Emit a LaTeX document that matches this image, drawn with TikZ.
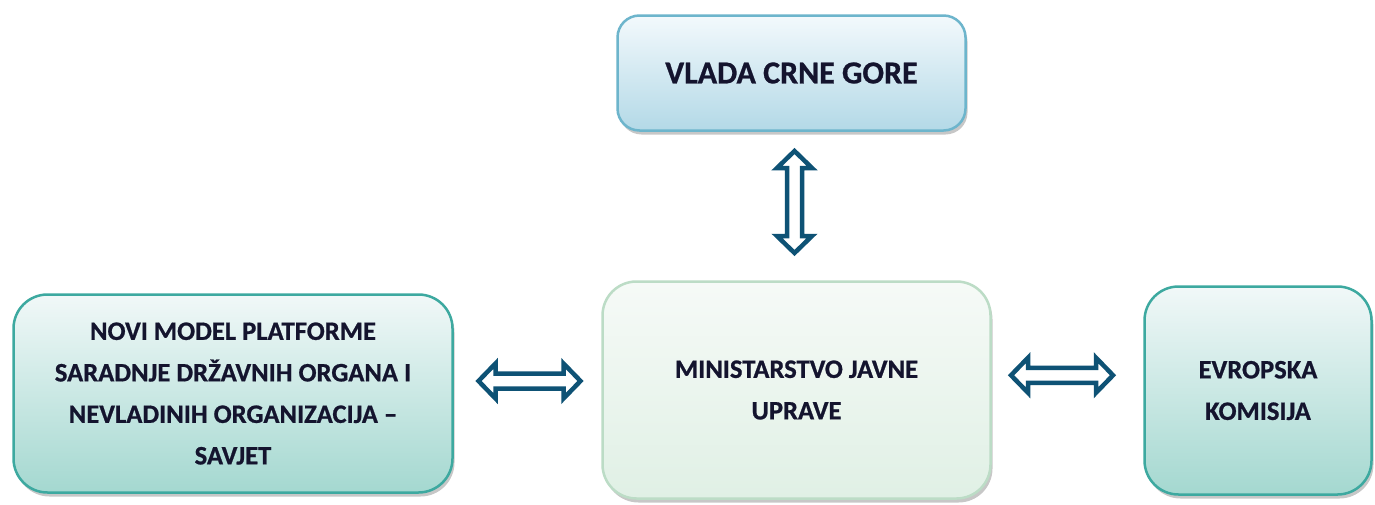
\documentclass[tikz,border=0pt]{standalone}
\usepackage{fontspec}
\setmainfont{Carlito}[BoldFeatures={FakeBold=0.8}]
\usetikzlibrary{shadows,calc}
\definecolor{arrowc}{HTML}{0E5275}
\definecolor{topT}{HTML}{F3F9FC}
\definecolor{topB}{HTML}{B3D9E7}
\definecolor{topD}{HTML}{6DB5CC}
\definecolor{tealT}{HTML}{F1F8F8}
\definecolor{tealB}{HTML}{A4D8D0}
\definecolor{tealD}{HTML}{3DA9A0}
\definecolor{greenT}{HTML}{F6FAF7}
\definecolor{greenB}{HTML}{E0F0E5}
\definecolor{greenD}{HTML}{BCDCC6}
\definecolor{textc}{HTML}{14142E}
\tikzset{
  box/.style={rounded corners=#1, line width=2.5pt, align=center, inner sep=0pt,
    text=textc, font=\fontsize{26.6}{41.5}\selectfont\bfseries,
    drop shadow={shadow xshift=2pt, shadow yshift=-4pt, fill=black, opacity=0.22}},
  topbox/.style={box=22pt, draw=topD, top color=topT, bottom color=topB,
    font=\fontsize{32}{38}\selectfont\bfseries},
  tealbox/.style={box=34pt, draw=tealD, top color=tealT, bottom color=tealB},
  greenbox/.style={box=34pt, draw=greenD, top color=greenT, bottom color=greenB},
  arrowbody/.style={draw=arrowc, fill=white, line width=4.5pt, line join=miter},
  pics/hdarrow/.style={code={
    \draw[arrowbody] (-51,0) -- (-34,-17.5) -- (-34,-7.5) -- (34,-7.5) -- (34,-17.5)
      -- (51,0) -- (34,17.5) -- (34,7.5) -- (-34,7.5) -- (-34,17.5) -- cycle;
  }},
}
\begin{document}
\begin{tikzpicture}[x=1pt,y=-1pt]
\useasboundingbox[fill=white] (0,0) rectangle (1375,504);
\node[topbox, minimum width=348pt, minimum height=115pt] (vlada) at (791.5,73) {VLADA CRNE GORE};
\node[tealbox, minimum width=439pt, minimum height=198pt] (nm) at (233,393.5)
  {NOVI MODEL PLATFORME\\SARADNJE DRŽAVNIH ORGANA I\\NEVLADINIH ORGANIZACIJA –\\SAVJET};
\node[greenbox, minimum width=388pt, minimum height=217pt] (mju) at (796.5,390)
  {MINISTARSTVO JAVNE\\UPRAVE};
\node[tealbox, minimum width=227pt, minimum height=208pt] (ek) at (1258,390.5)
  {EVROPSKA\\KOMISIJA};
\pic (arrV) [rotate=90] at ($(vlada.south)!0.5!(mju.north)+(0.5,-4)$) {hdarrow};
\pic (arrL) at ($(nm.east)!0.5!(mju.west)+(2,-10.75)$) {hdarrow};
\pic (arrR) at ($(mju.east)!0.5!(ek.west)+(-5.5,-15)$) {hdarrow};
\end{tikzpicture}
\end{document}
